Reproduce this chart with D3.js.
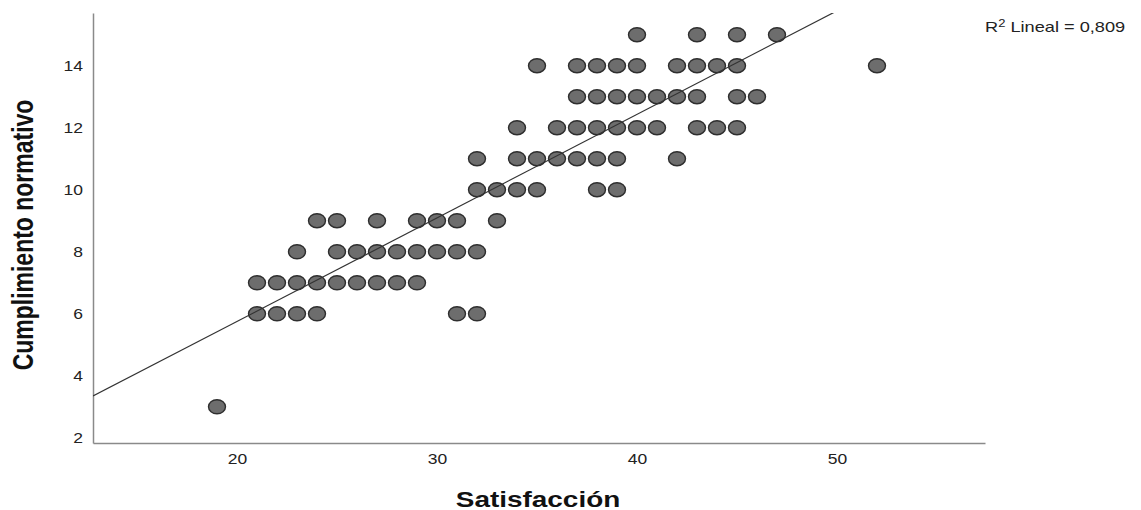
<!DOCTYPE html>
<html lang="es">
<head>
    <meta charset="UTF-8">
    <title>Satisfacción y Cumplimiento normativo</title>
    <script src="https://d3js.org/d3.v7.min.js"></script>
    <style>
        body { margin: 0; background: #fff; }
        svg { display: block; font-family: "Liberation Sans", Arial, sans-serif; }
        .axis path { stroke: #8a8a8a; stroke-width: 1.5; }
        .axis text { font-size: 14px; fill: #222; }
        .title { font-weight: bold; fill: #111; }
    </style>
</head>
<body>
<svg id="chart" width="1141" height="510"></svg>
<script>
    // one entry per visible dot, read row by row (top row first)
    const satisfaccion = [
        40, 43, 45, 47,
        35, 37, 38, 39, 40, 42, 43, 44, 45, 52,
        37, 38, 39, 40, 41, 42, 43, 45, 46,
        34, 36, 37, 38, 39, 40, 41, 43, 44, 45,
        32, 34, 35, 36, 37, 38, 39, 42,
        32, 33, 34, 35, 38, 39,
        24, 25, 27, 29, 30, 31, 33,
        23, 25, 26, 27, 28, 29, 30, 31, 32,
        21, 22, 23, 24, 25, 26, 27, 28, 29,
        21, 22, 23, 24, 31, 32,
        19
    ];
    const cumplimiento = [
        15, 15, 15, 15,
        14, 14, 14, 14, 14, 14, 14, 14, 14, 14,
        13, 13, 13, 13, 13, 13, 13, 13, 13,
        12, 12, 12, 12, 12, 12, 12, 12, 12, 12,
        11, 11, 11, 11, 11, 11, 11, 11,
        10, 10, 10, 10, 10, 10,
        9, 9, 9, 9, 9, 9, 9,
        8, 8, 8, 8, 8, 8, 8, 8, 8,
        7, 7, 7, 7, 7, 7, 7, 7, 7,
        6, 6, 6, 6, 6, 6,
        3
    ];
    const xTicks = [20, 30, 40, 50];
    const yTicks = [2, 4, 6, 8, 10, 12, 14];
    const fitLine = { intercept: -0.93, slope: 0.334 };
    const r2Label = "0,809";

    const svg = d3.select("#chart");
    const plotLeft = 93, plotRight = 985, plotTop = 13, plotBottom = 443;

    const x = d3.scaleLinear().domain([12.8, 57.4]).range([plotLeft, plotRight]);
    const y = d3.scaleLinear().domain([1.83, 15.7]).range([plotBottom, plotTop]);

    // axes: plain lines, no tick marks (SPSS look)
    const xAxis = svg.append("g").attr("class", "axis")
        .attr("transform", `translate(0,${plotBottom})`)
        .call(d3.axisBottom(x).tickValues(xTicks).tickSize(0).tickPadding(11).tickSizeOuter(0));
    const yAxis = svg.append("g").attr("class", "axis")
        .attr("transform", `translate(${plotLeft},0)`)
        .call(d3.axisLeft(y).tickValues(yTicks).tickSize(0).tickPadding(8).tickSizeOuter(0));
    // the source picture is stretched sideways, so the text is too
    xAxis.selectAll("text").attr("transform", "scale(1.25,1)");
    yAxis.selectAll("text").attr("transform", "scale(1.25,1)");

    svg.append("defs").append("clipPath").attr("id", "plotClip")
        .append("rect").attr("x", plotLeft).attr("y", plotTop)
        .attr("width", plotRight - plotLeft).attr("height", plotBottom - plotTop);

    const pts = satisfaccion.map((s, i) => ({ s: s, c: cumplimiento[i] }));

    svg.append("g").selectAll("ellipse")
        .data(pts)
        .join("ellipse")
        .attr("cx", d => x(d.s))
        .attr("cy", d => y(d.c))
        .attr("rx", 8.5)
        .attr("ry", 7)
        .attr("fill", "#6d6d6d")
        .attr("stroke", "#2e2e2e")
        .attr("stroke-width", 1.4);

    const xd = x.domain();
    svg.append("line")
        .attr("clip-path", "url(#plotClip)")
        .attr("x1", x(xd[0])).attr("y1", y(fitLine.intercept + fitLine.slope * xd[0]))
        .attr("x2", x(xd[1])).attr("y2", y(fitLine.intercept + fitLine.slope * xd[1]))
        .attr("stroke", "#333")
        .attr("stroke-width", 1.2);

    // titles
    svg.append("text").attr("class", "title")
        .attr("transform", "translate(538,507) scale(1.27,1)")
        .attr("text-anchor", "middle")
        .style("font-size", "22px")
        .text("Satisfacción");

    svg.append("text").attr("class", "title")
        .attr("transform", "translate(23,235) scale(1.25,1) rotate(-90)")
        .attr("text-anchor", "middle")
        .attr("dy", "0.35em")
        .style("font-size", "23px")
        .text("Cumplimiento normativo");

    const r2 = svg.append("text")
        .attr("transform", "translate(985,32) scale(1.3,1)")
        .style("font-size", "14px")
        .attr("fill", "#222");
    r2.append("tspan").text("R");
    r2.append("tspan").attr("dy", -5).style("font-size", "10px").text("2");
    r2.append("tspan").attr("dy", 5).text(" Lineal = " + r2Label);
</script>
</body>
</html>
